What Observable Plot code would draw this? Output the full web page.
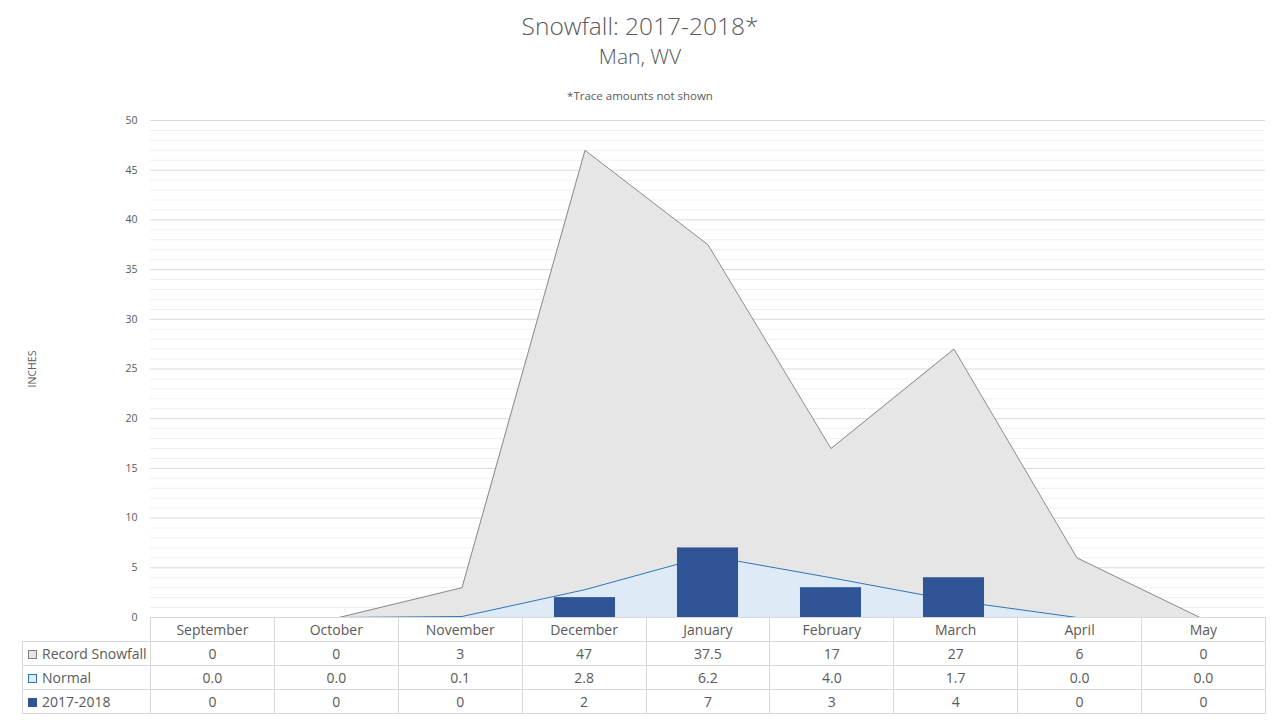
<!DOCTYPE html>
<html>
<head>
<meta charset="utf-8">
<script src="https://cdn.jsdelivr.net/npm/d3@7"></script>
<script src="https://cdn.jsdelivr.net/npm/@observablehq/plot@0.6"></script>
<style>
  html, body { margin: 0; padding: 0; background: #fff; }
  #wrap { position: relative; width: 1280px; height: 720px; font-family: "Open Sans", "DejaVu Sans", sans-serif; color: #595959; overflow: hidden; }
  .title { position: absolute; left: 0; width: 1280px; text-align: center; }
  #t1 { top: 9px; font-size: 24.5px; font-weight: 300; }
  #t2 { top: 42px; font-size: 21px; font-weight: 300; }
  #t3 { top: 88px; font-size: 11.5px; }
  #chart { position: absolute; left: 0; top: 110px; }
  #tbl { position: absolute; left: 22px; top: 617px; border-collapse: collapse; font-size: 14px; color: #595959; table-layout: fixed; }
  #tbl td { border: 1px solid #d9d9d9; height: 23px; padding: 0; text-align: center; white-space: nowrap; line-height: 20px; }
  #tbl td.lab { text-align: left; padding-left: 5px; }
  #tbl td.blank { border: none; border-right: 1px solid #d9d9d9; }
  .sw { display: inline-block; width: 9px; height: 9px; margin-right: 5px; vertical-align: 0px; box-sizing: border-box; }
</style>
</head>
<body>
<div id="wrap">
  <div class="title" id="t1">Snowfall: 2017-2018*</div>
  <div class="title" id="t2">Man, WV</div>
  <div class="title" id="t3">*Trace amounts not shown</div>
  <div id="chart"></div>
  <table id="tbl"></table>
</div>
<script>
const months = ["September","October","November","December","January","February","March","April","May"];
const recordSnowfall = [0, 0, 3, 47, 37.5, 17, 27, 6, 0];
const normalSnowfall = [0.0, 0.0, 0.1, 2.8, 6.2, 4.0, 1.7, 0.0, 0.0];
const season = [0, 0, 0, 2, 7, 3, 4, 0, 0];
const yTicks = [0, 5, 10, 15, 20, 25, 30, 35, 40, 45, 50];

const seriesNames = ["Record Snowfall", "Normal", "2017-2018"];
const recordColor = {fill: "#e6e6e6", stroke: "#808080"};
const normalColor = {fill: "#deebf7", stroke: "#2e75b6"};
const seasonColor = "#2f5597";

const data = months.map((m, i) => ({month: m, i, record: recordSnowfall[i], normal: normalSnowfall[i], season: season[i]}));
// The reference draws the record area from October on, the normal area from October to April
const recordData = data.filter(d => d.i >= 1);
const normalData = data.filter(d => d.i >= 1 && d.i <= 7);
const minor = d3.range(0, 51, 1).filter(v => v % 5 !== 0);

const W = 1280, marginLeft = 150, marginRight = 15;
const band = (W - marginLeft - marginRight) / months.length;

const chart = Plot.plot({
  width: W,
  height: 610,
  marginTop: 10,
  marginBottom: 103,
  marginLeft,
  marginRight,
  style: {fontFamily: "'Open Sans', 'DejaVu Sans', sans-serif", fontSize: "10.5px", color: "#595959", background: "transparent"},
  x: {domain: months, padding: 0, axis: null},
  y: {domain: [0, 50]},
  marks: [
    Plot.ruleY(minor, {stroke: "#f0f0f0", strokeWidth: 1}),
    Plot.ruleY(yTicks, {stroke: "#d9d9d9", strokeWidth: 1}),
    Plot.areaY(recordData, {x: "month", y: "record", fill: recordColor.fill}),
    Plot.lineY(recordData, {x: "month", y: "record", stroke: recordColor.stroke, strokeWidth: 0.9}),
    Plot.areaY(normalData, {x: "month", y: "normal", fill: normalColor.fill}),
    Plot.lineY(normalData, {x: "month", y: "normal", stroke: normalColor.stroke, strokeWidth: 1}),
    Plot.barY(data, {x: "month", y: "season", fill: seasonColor, insetLeft: band / 4, insetRight: band / 4}),
    Plot.axisY(yTicks, {tickSize: 0, tickPadding: 13, label: "INCHES", labelAnchor: "center", labelArrow: "none", labelOffset: 122, fill: "#595959", fontSize: 10.5})
  ]
});
document.getElementById("chart").appendChild(chart);

// data table below the plot, aligned to the x band scale
const tbl = document.getElementById("tbl");
const cols = `<colgroup><col style="width:${marginLeft - 22}px">` + months.map(() => `<col style="width:${band}px">`).join("") + `</colgroup>`;
const header = `<tr><td class="blank"></td>` + months.map(m => `<td>${m}</td>`).join("") + `</tr>`;
const swatches = [
  `<span class="sw" style="background:${recordColor.fill};border:1px solid #7f7f7f"></span>`,
  `<span class="sw" style="background:${normalColor.fill};border:1px solid ${normalColor.stroke}"></span>`,
  `<span class="sw" style="background:${seasonColor}"></span>`
];
const rows = [
  recordSnowfall.map(v => String(v)),
  normalSnowfall.map(v => v.toFixed(1)),
  season.map(v => String(v))
].map((vals, r) => `<tr><td class="lab">${swatches[r]}${seriesNames[r]}</td>` + vals.map(v => `<td>${v}</td>`).join("") + `</tr>`).join("");
tbl.innerHTML = cols + header + rows;
</script>
</body>
</html>
